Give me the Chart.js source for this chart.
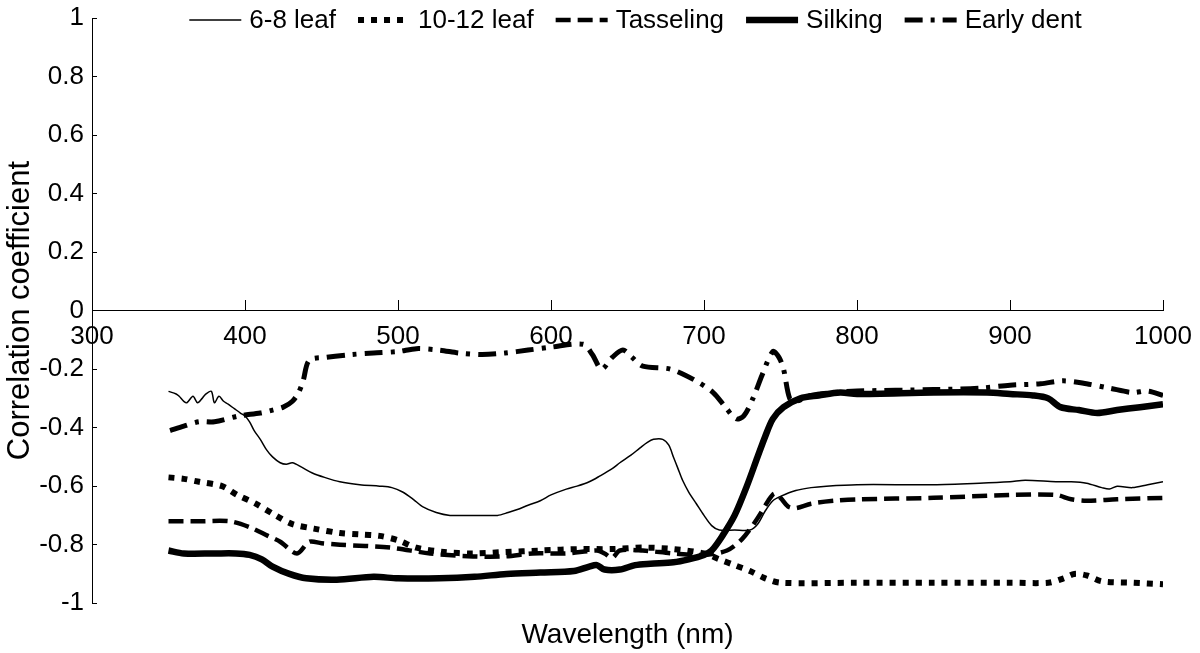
<!DOCTYPE html>
<html>
<head>
<meta charset="utf-8">
<script src="https://cdn.jsdelivr.net/npm/chart.js@4.4.0/dist/chart.umd.min.js"></script>
<style>
  html, body { margin: 0; padding: 0; background: #fff; }
  #wrap { width: 1200px; height: 653px; }
</style>
</head>
<body>
<div id="wrap"><canvas id="specChart"></canvas></div>
<script>
const xTicks = [300, 400, 500, 600, 700, 800, 900, 1000];
const yTicks = [-1, -0.8, -0.6, -0.4, -0.2, 0, 0.2, 0.4, 0.6, 0.8, 1];
const stageNames = ["6-8 leaf", "10-12 leaf", "Tasseling", "Silking", "Early dent"];

// 6-8 leaf
const wl68 = [350,355,357,360,362,366,369,372,374,378,380,383,386,389,393,397,400,403,406,410,414,418,423,427,431,437,444,452,462,475,488,496,503,510,516,525,534,545,555,565,572,578,585,593,600,610,617,625,632,640,645,652,658,663,667,673,677,680,683,686,690,695,700,705,710,720,730,735,740,745,750,760,770,780,800,850,880,900,910,930,940,950,960,965,970,980,990,1000];
const r68 = [-0.276,-0.285,-0.293,-0.31,-0.315,-0.293,-0.315,-0.30,-0.287,-0.276,-0.315,-0.293,-0.31,-0.32,-0.335,-0.35,-0.36,-0.38,-0.41,-0.44,-0.475,-0.50,-0.52,-0.525,-0.52,-0.535,-0.555,-0.57,-0.585,-0.595,-0.60,-0.605,-0.62,-0.645,-0.67,-0.69,-0.70,-0.70,-0.70,-0.70,-0.69,-0.68,-0.665,-0.65,-0.63,-0.61,-0.60,-0.585,-0.565,-0.54,-0.52,-0.495,-0.47,-0.45,-0.44,-0.44,-0.46,-0.50,-0.54,-0.58,-0.62,-0.66,-0.70,-0.735,-0.75,-0.75,-0.75,-0.73,-0.685,-0.65,-0.635,-0.615,-0.605,-0.60,-0.595,-0.595,-0.59,-0.585,-0.58,-0.585,-0.585,-0.59,-0.605,-0.61,-0.60,-0.605,-0.595,-0.585];

// 10-12 leaf
const wl1012 = [350,360,370,385,395,407,420,431,445,462,475,488,500,512,530,549,570,593,620,640,660,680,700,710,720,730,740,750,800,850,900,925,935,942,950,960,980,1000];
const r1012 = [-0.57,-0.575,-0.585,-0.60,-0.63,-0.66,-0.70,-0.73,-0.745,-0.76,-0.765,-0.77,-0.785,-0.81,-0.825,-0.83,-0.825,-0.82,-0.815,-0.815,-0.81,-0.815,-0.83,-0.85,-0.87,-0.89,-0.915,-0.93,-0.93,-0.93,-0.93,-0.93,-0.915,-0.90,-0.905,-0.925,-0.93,-0.935];

// Tasseling
const wlTas = [350,370,390,403,415,423,434,442,450,462,495,521,549,570,588,610,630,635,640,645,660,680,700,715,725,735,742,746,750,755,760,770,785,800,850,900,930,940,950,970,1000];
const rTas = [-0.72,-0.72,-0.72,-0.74,-0.77,-0.79,-0.83,-0.79,-0.795,-0.80,-0.81,-0.83,-0.84,-0.84,-0.83,-0.83,-0.82,-0.83,-0.845,-0.82,-0.82,-0.83,-0.835,-0.82,-0.78,-0.71,-0.65,-0.625,-0.64,-0.67,-0.675,-0.66,-0.65,-0.645,-0.64,-0.63,-0.63,-0.645,-0.65,-0.645,-0.64];

// Silking
const wlSilk = [350,360,380,394,403,411,418,429,440,460,484,500,527,550,571,593,615,625,630,635,645,655,665,680,690,700,705,712,720,728,735,740,745,752,763,775,789,800,850,885,900,915,925,933,945,957,970,985,1000];
const rSilk = [-0.82,-0.83,-0.83,-0.83,-0.835,-0.85,-0.875,-0.90,-0.915,-0.92,-0.91,-0.915,-0.915,-0.91,-0.90,-0.895,-0.89,-0.875,-0.87,-0.885,-0.885,-0.87,-0.865,-0.86,-0.85,-0.835,-0.82,-0.77,-0.70,-0.60,-0.50,-0.43,-0.37,-0.33,-0.30,-0.29,-0.28,-0.285,-0.28,-0.28,-0.285,-0.29,-0.30,-0.33,-0.34,-0.35,-0.34,-0.33,-0.32];

// Early dent
const wlEd = [351,360,370,380,396,410,418,425,431,435,438,442,453,470,484,500,512,527,540,555,570,585,600,621,627,633,640,647,653,660,678,693,706,714,721,726,732,738,745,749,752,756,760,770,785,800,850,880,900,920,935,950,965,980,990,1000];
const rEd = [-0.41,-0.395,-0.38,-0.38,-0.36,-0.35,-0.34,-0.33,-0.31,-0.28,-0.24,-0.17,-0.16,-0.15,-0.145,-0.14,-0.13,-0.135,-0.145,-0.15,-0.145,-0.135,-0.125,-0.115,-0.15,-0.20,-0.16,-0.135,-0.16,-0.19,-0.20,-0.235,-0.28,-0.33,-0.37,-0.36,-0.30,-0.22,-0.14,-0.16,-0.20,-0.30,-0.31,-0.29,-0.28,-0.275,-0.27,-0.265,-0.255,-0.25,-0.24,-0.25,-0.265,-0.28,-0.275,-0.29];

const FONT = '"Liberation Sans", Arial, sans-serif';

function pts(xs, ys) {
  return xs.map((x, i) => ({ x: x, y: ys[i] }));
}

function series(label, xs, ys, width, dash) {
  return {
    label: label,
    data: pts(xs, ys),
    borderColor: "#000",
    backgroundColor: "#000",
    borderWidth: width,
    borderDash: dash,
    borderCapStyle: "butt",
    borderJoinStyle: "round",
    pointRadius: 0,
    tension: 0.3,
    fill: false
  };
}

// no label overhang padding: the plot box is set by layout.padding alone
function noPad(s) {
  s.paddingTop = 0;
  s.paddingBottom = 0;
  s.paddingLeft = 0;
  s.paddingRight = 0;
}

// legend drawn inside the plot, like the original figure
const lineLegend = {
  id: "lineLegend",
  afterDraw(chart) {
    const ctx = chart.ctx;
    const area = chart.chartArea;
    ctx.save();
    ctx.font = "26px " + FONT;
    ctx.textBaseline = "middle";
    ctx.fillStyle = "#000";
    const lineLen = 52, gapIn = 8, gapOut = 22;
    const items = chart.data.datasets.map(ds => ({ ds: ds, w: ctx.measureText(ds.label).width }));
    let total = items.reduce((s, it) => s + lineLen + gapIn + it.w, 0) + gapOut * (items.length - 1);
    let x = (area.left + area.right) / 2 + 8 - total / 2;
    const y = 20;
    items.forEach(it => {
      ctx.strokeStyle = "#000";
      ctx.lineWidth = it.ds.borderWidth;
      ctx.lineCap = "butt";
      ctx.setLineDash(it.ds.borderDash || []);
      ctx.beginPath();
      ctx.moveTo(x, y);
      ctx.lineTo(x + lineLen, y);
      ctx.stroke();
      ctx.setLineDash([]);
      ctx.fillText(it.ds.label, x + lineLen + gapIn, y + 1);
      x += lineLen + gapIn + it.w + gapOut;
    });
    ctx.restore();
  }
};

new Chart(document.getElementById("specChart"), {
  type: "line",
  data: {
    datasets: [
      series(stageNames[0], wl68, r68, 1.5, []),
      series(stageNames[1], wl1012, r1012, 6, [6, 7]),
      series(stageNames[2], wlTas, rTas, 4.5, [15, 7]),
      series(stageNames[3], wlSilk, rSilk, 6.5, []),
      series(stageNames[4], wlEd, rEd, 5, [18, 8, 4, 8])
    ]
  },
  options: {
    responsive: true,
    maintainAspectRatio: false,
    animation: false,
    layout: { padding: { top: 18, right: 37, left: 0, bottom: 0 } },
    plugins: {
      legend: { display: false },
      tooltip: { enabled: false },
      title: {
        display: true,
        position: "bottom",
        fullSize: false,
        text: "Wavelength (nm)",
        color: "#000",
        font: { family: FONT, size: 28, weight: "normal", lineHeight: 1.1 },
        padding: { top: 17, bottom: 2 }
      }
    },
    scales: {
      x: {
        type: "linear",
        min: 300,
        max: 1000,
        position: { y: 0 },
        afterBuildTicks: s => { s.ticks = xTicks.map(v => ({ value: v })); },
        afterFit: noPad,
        ticks: {
          color: "#000",
          font: { family: FONT, size: 26 },
          padding: 22,
          maxRotation: 0,
          autoSkip: false,
          callback: v => String(v)
        },
        grid: { drawOnChartArea: false, drawTicks: true, tickLength: -11, color: "#000" },
        border: { display: true, color: "#000", width: 1 }
      },
      y: {
        type: "linear",
        min: -1,
        max: 1,
        afterBuildTicks: s => { s.ticks = yTicks.map(v => ({ value: v })); },
        afterFit: s => { noPad(s); s.width = 92; },
        ticks: {
          color: "#000",
          font: { family: FONT, size: 26 },
          padding: 13,
          callback: v => String(Math.round(v * 10) / 10)
        },
        grid: { drawOnChartArea: false, drawTicks: true, tickLength: -5, color: "#000" },
        border: { display: true, color: "#000", width: 1 },
        title: {
          display: true,
          text: "Correlation coefficient",
          color: "#000",
          font: { family: FONT, size: 31, lineHeight: 1.1 },
          padding: { top: 3, bottom: 0 }
        }
      }
    }
  },
  plugins: [lineLegend]
});
</script>
</body>
</html>
